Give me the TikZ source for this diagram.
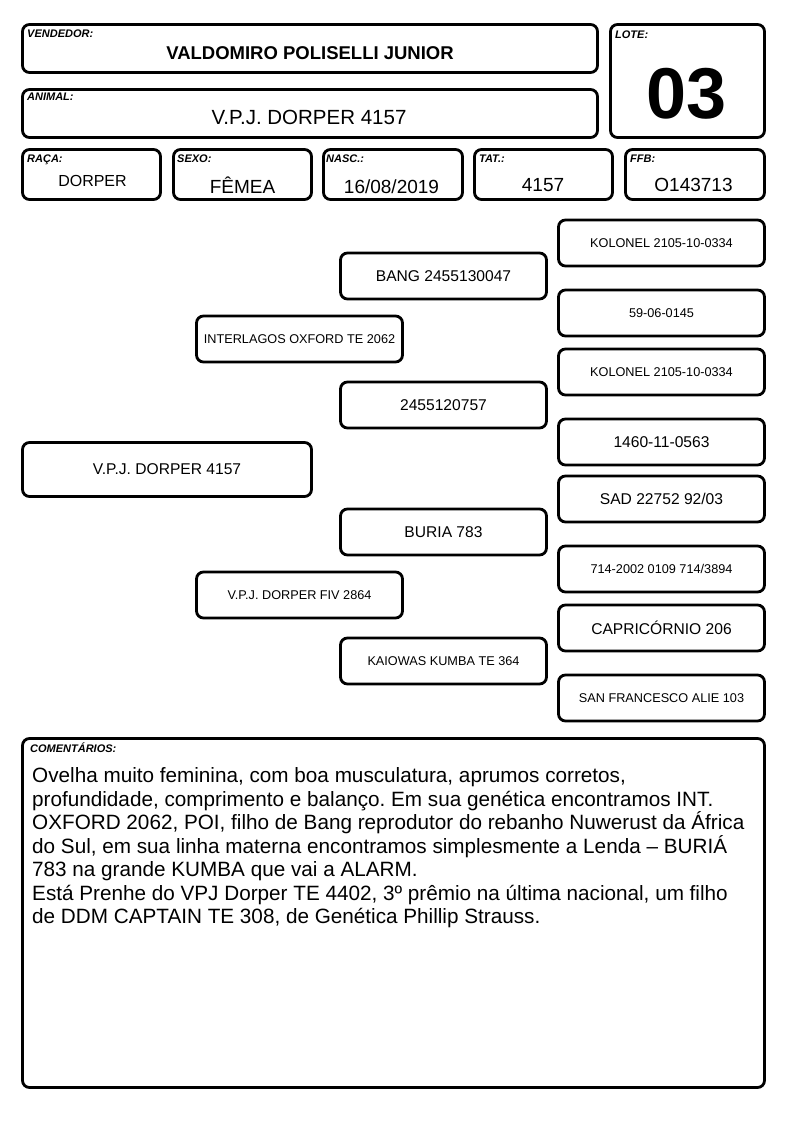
\documentclass[tikz,border=0pt]{standalone}
\usepackage{fontspec}
\setmainfont{Liberation Sans}
\frenchspacing
\newcommand{\fsz}[1]{\fontsize{#1}{1.2\dimexpr#1pt\relax}\selectfont}
\tikzset{
  frame/.style={draw=black, line width=2.8pt, rounded corners=7pt, inner sep=0pt, align=center},
  ped/.style={frame, minimum width=206pt, minimum height=46pt},
  lab/.style={anchor=base west, inner sep=0pt, font=\fontsize{11}{12}\selectfont\bfseries\itshape},
  val/.style={anchor=base, inner sep=0pt},
  small/.style={font=\fsz{12.7}},
  big/.style={font=\fsz{15.6}},
}
\begin{document}
\begin{tikzpicture}[x=1pt,y=-1pt]
\useasboundingbox (0,0) rectangle (794,1123);
\fill[white] (0,0) rectangle (794,1123);
% header boxes
\node[frame, minimum width=575pt, minimum height=48pt] (vend) at (310,48.5) {};
\node[frame, minimum width=575pt, minimum height=48pt] (anim) at (310,113.5) {};
\node[frame, minimum width=154pt, minimum height=113pt] (lote) at (687.5,81) {};
\node[frame, minimum width=138pt, minimum height=50pt] (raca) at (91.5,174.5) {};
\node[frame, minimum width=138pt, minimum height=50pt] (sexo) at (242.5,174.5) {};
\node[frame, minimum width=139pt, minimum height=50pt] (nasc) at (393,174.5) {};
\node[frame, minimum width=138pt, minimum height=50pt] (tat) at (543.5,174.5) {};
\node[frame, minimum width=139pt, minimum height=50pt] (ffb) at (695,174.5) {};
% labels
\node[lab] (lvend) at (27,38) {VENDEDOR:};
\node[lab] (lanim) at (27,101) {ANIMAL:};
\node[lab] (llote) at (615,38.3) {LOTE:};
\node[lab] (lraca) at (27,162.5) {RAÇA:};
\node[lab] (lsexo) at (177,163) {SEXO:};
\node[lab] (lnasc) at (326,163) {NASC.:};
\node[lab] (ltat) at (479,163) {TAT.:};
\node[lab] (lffb) at (630,163) {FFB:};
% values
\node[val, font=\fsz{18.5}\bfseries] (tvend) at (310,60) {VALDOMIRO POLISELLI JUNIOR};
\node[val, font=\fsz{20.5}] (tanim) at (309,125) {V.P.J. DORPER 4157};
\node[val, font=\fontsize{72}{80}\selectfont\bfseries] (tlote) at (687,118.3) {03};
\node[val, font=\fsz{16}] (traca) at (92.5,187) {DORPER};
\node[val, font=\fsz{19}] (tsexo) at (242.5,193.3) {FÊMEA};
\node[val, font=\fsz{19}] (tnasc) at (391.5,193.3) {16/08/2019};
\node[val, font=\fsz{19}] (ttat) at (543,191.7) {4157};
\node[val, font=\fsz{19}] (tffb) at (693.5,191.7) {O143713};
% pedigree
\node[ped, small] (k1) at (661.5,243) {KOLONEL 2105-10-0334};
\node[ped, big] (bang) at (443.5,276) {BANG 2455130047};
\node[ped, small] (p59) at (661.5,313) {59-06-0145};
\node[ped, small] (inter) at (299.5,339) {INTERLAGOS OXFORD TE 2062};
\node[ped, small] (k2) at (661.5,372) {KOLONEL 2105-10-0334};
\node[ped, big] (p245) at (443.5,405) {2455120757};
\node[ped, big] (p1460) at (661.5,442) {1460-11-0563};
\node[frame, big, minimum width=289pt, minimum height=54pt] (vpj) at (167,469.5) {V.P.J. DORPER 4157};
\node[ped, big] (sad) at (661.5,499) {SAD 22752 92/03};
\node[ped, big] (buria) at (443.5,532) {BURIA 783};
\node[ped, small] (p714) at (661.5,569) {714-2002 0109 714/3894};
\node[ped, small] (fiv) at (299.5,595) {V.P.J. DORPER FIV 2864};
\node[ped, big] (capri) at (661.5,628) {CAPRICÓRNIO 206};
\node[ped, small] (kaio) at (443.5,661) {KAIOWAS KUMBA TE 364};
\node[ped, small] (san) at (661.5,698) {SAN FRANCESCO ALIE 103};
% comments
\node[frame, minimum width=742pt, minimum height=349pt] (com) at (393.5,913) {};
\node[lab] (lcom) at (30,752) {COMENTÁRIOS:};
\node[anchor=north west, inner sep=0pt, align=left, font=\fontsize{20.7}{23.5}\selectfont] (tcom) at (32,767.5) {%
Ovelha muito feminina, com boa musculatura, aprumos corretos,\\
profundidade, comprimento e balanço. Em sua genética encontramos INT.\\
OXFORD 2062, POI, filho de Bang reprodutor do rebanho Nuwerust da África\\
do Sul, em sua linha materna encontramos simplesmente a Lenda – BURIÁ\\
783 na grande KUMBA que vai a ALARM.\\
Está Prenhe do VPJ Dorper TE 4402, 3º prêmio na última nacional, um filho\\
de DDM CAPTAIN TE 308, de Genética Phillip Strauss.};
\end{tikzpicture}
\end{document}
